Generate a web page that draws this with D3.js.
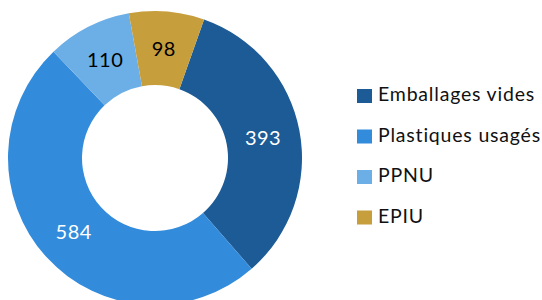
<!DOCTYPE html>
<html>
<head>
<meta charset="utf-8">
<script src="https://cdn.jsdelivr.net/npm/d3@7"></script>
<style>
  body { margin: 0; background: #fff; }
  svg { display: block; font-family: Lato, "Noto Sans", sans-serif; }
</style>
</head>
<body>
<div id="chart"></div>
<script>
// data
const categories = ["Emballages vides", "Plastiques usagés", "PPNU", "EPIU"];
const values = [393, 584, 110, 98];
const colors = ["#1c5b96", "#328bdb", "#6caee6", "#c69e3c"];
const labelColors = ["#fff", "#fff", "#000", "#000"];

const width = 542, height = 300;
const cx = 155, cy = 158, outerR = 147, innerR = 73;

const svg = d3.select("#chart").append("svg")
  .attr("width", width)
  .attr("height", height);

const pie = d3.pie()
  .sort(null)
  .startAngle(19.5 * Math.PI / 180)
  .endAngle((360 + 19.5) * Math.PI / 180)
  .value(d => d.value);

const data = categories.map((c, i) => ({ name: c, value: values[i], i: i }));
const arcs = pie(data);

const arc = d3.arc().innerRadius(innerR).outerRadius(outerR);

const g = svg.append("g").attr("transform", `translate(${cx},${cy})`);

g.selectAll("path")
  .data(arcs)
  .join("path")
  .attr("d", arc)
  .attr("fill", d => colors[d.data.i]);

g.selectAll("text")
  .data(arcs)
  .join("text")
  .attr("transform", d => `translate(${arc.centroid(d)})`)
  .attr("text-anchor", "middle")
  .attr("dy", "0.36em")
  .attr("font-size", 20)
  .attr("letter-spacing", 0.5)
  .attr("fill", d => labelColors[d.data.i])
  .text(d => d.data.value);

// legend
const legend = svg.append("g").attr("transform", "translate(357,96)");
const row = legend.selectAll("g")
  .data(categories)
  .join("g")
  .attr("transform", (d, i) => `translate(0,${i * 40.5})`);

row.append("rect")
  .attr("x", 0)
  .attr("y", -7)
  .attr("width", 15)
  .attr("height", 14)
  .attr("fill", (d, i) => colors[i]);

row.append("text")
  .attr("x", 21)
  .attr("y", 5)
  .attr("font-size", 19.5)
  .attr("letter-spacing", 0.8)
  .attr("fill", "#111")
  .text(d => d);
</script>
</body>
</html>
